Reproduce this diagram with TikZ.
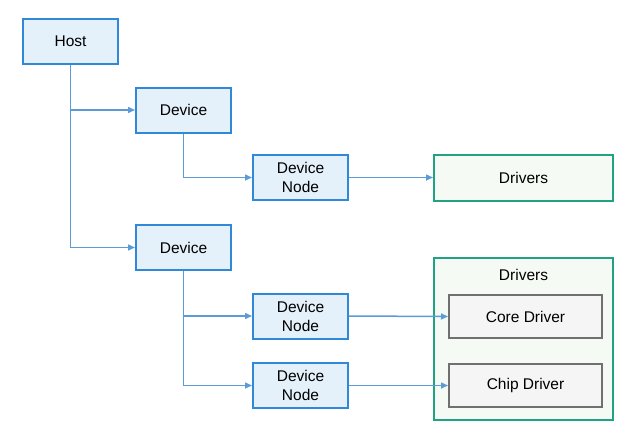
\documentclass[tikz,border=0pt]{standalone}
\usepackage{fontspec}
\setmainfont{Liberation Sans}
\usepackage{xcolor}
\usetikzlibrary{arrows.meta, positioning}

\definecolor{boxblue}{HTML}{2F88D8}
\definecolor{fillblue}{HTML}{E4F0FA}
\definecolor{lineblue}{HTML}{5A9BD8}
\definecolor{drvgreen}{HTML}{1FA383}
\definecolor{fillgreen}{HTML}{F5FAF4}
\definecolor{chipgray}{HTML}{707070}
\definecolor{fillgray}{HTML}{F5F5F5}

\tikzset{
  devbox/.style={draw=boxblue, fill=fillblue, line width=2pt, minimum width=95pt, minimum height=45pt, align=center, font=\fontsize{15.5}{19}\selectfont},
  drvbox/.style={draw=drvgreen, fill=fillgreen, line width=2pt, minimum width=179pt, minimum height=46pt, font=\fontsize{15.5}{19}\selectfont},
  grpbox/.style={draw=drvgreen, fill=fillgreen, line width=2pt, minimum width=179pt, minimum height=162pt},
  chipbox/.style={draw=chipgray, fill=fillgray, line width=2pt, minimum width=153pt, minimum height=43pt, font=\fontsize{15.5}{19}\selectfont},
  arr/.style={draw=lineblue, line width=1.5pt, -{Triangle[length=7pt,width=6pt]}}
}

\begin{document}
\begin{tikzpicture}[x=1pt, y=-1pt]
          \useasboundingbox (0,0) rectangle (620,442);

          \node[devbox] (host) at (70.5,41) {Host};
          \node[devbox] (dev1) at (183.5,110) {Device};
          \node[devbox] (dev2) at (183.5,247.5) {Device};
          \node[devbox] (dnode1) at (300.5,177.5) {Device\\Node};
          \node[devbox] (dnode2) at (300.5,316) {Device\\Node};
          \node[devbox] (dnode3) at (300.5,385.5) {Device\\Node};

          \node[drvbox] (drv1) at (523.5,177.5) {Drivers};
          \node[grpbox] (drvgrp) at (523.5,339) {};
          \node[font=\fontsize{15.5}{19}\selectfont] (grplabel) at (523.5,275) {Drivers};
          \node[chipbox] (core) at (525.5,316.5) {Core Driver};
          \node[chipbox] (chip) at (525.5,385.5) {Chip Driver};

          \draw[arr] (host.south) |- (dev1.west);
          \draw[arr] (host.south) |- (dev2.west);
          \draw[arr] (dev1.south) |- (dnode1.west);
          \draw[arr] (dev2.south) |- (dnode2.west);
          \draw[arr] (dev2.south) |- (dnode3.west);
          \draw[arr] (dnode1.east) -- (drv1.west);
          \draw[arr] (dnode2.east) -- (core.west);
          \draw[arr] (dnode3.east) -- (chip.west);
        \end{tikzpicture}
\end{document}
